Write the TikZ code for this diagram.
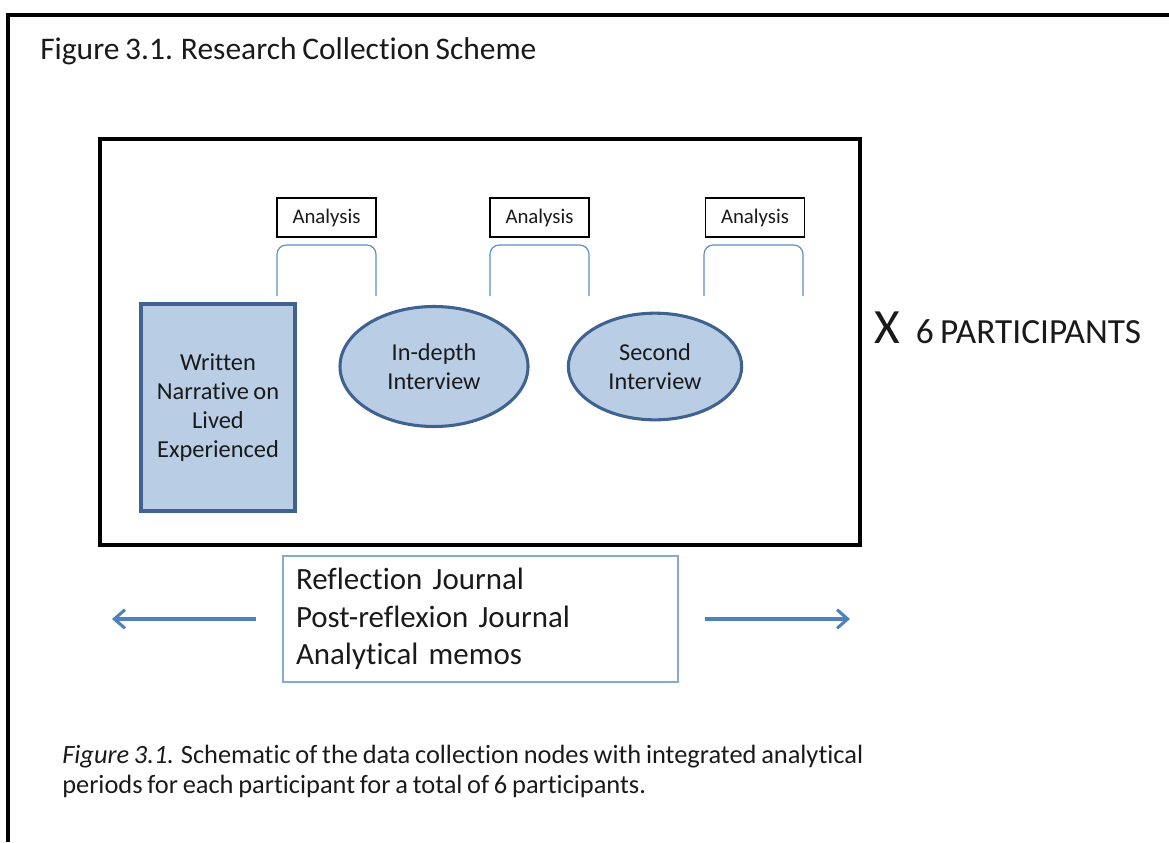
\documentclass[tikz,border=0pt]{standalone}
\usepackage{fontspec}
\setmainfont{Carlito}[Ligatures={NoCommon},WordSpace={0.8}]
\usetikzlibrary{arrows.meta,shapes.geometric}
\definecolor{fillblue}{HTML}{B9CDE5}
\definecolor{edgeblue}{HTML}{3F6290}
\definecolor{lineblue}{HTML}{4F81BD}
\definecolor{bracketblue}{HTML}{5F8DC8}
\definecolor{boxblue}{HTML}{86A9D6}
\definecolor{inktext}{HTML}{1A1A1A}
\begin{document}
\begin{tikzpicture}[x=0.75pt,y=-0.75pt,
  every node/.style={text=inktext},
  frame/.style={line width=3pt,black},
  innerframe/.style={line width=2.6pt,black},
  analysisbox/.style={draw=black,line width=1pt,fill=white,minimum width=74.25pt,minimum height=29.25pt,inner sep=0pt,font=\fontsize{15.6}{18}\selectfont},
  bracket/.style={draw=bracketblue,line width=0.9pt,rounded corners=7pt},
  datarect/.style={draw=edgeblue,fill=fillblue,line width=2.3pt,inner sep=0pt,align=center,font=\fontsize{18.3}{21.9}\selectfont},
  dataoval/.style={ellipse,draw=edgeblue,fill=fillblue,line width=2.3pt,inner sep=0pt,align=center,font=\fontsize{18.2}{21.9}\selectfont},
  journalbox/.style={draw=boxblue,line width=1pt,inner ysep=0pt,inner xsep=9.75pt,align=left,font=\fontsize{23.2}{28}\selectfont},
  spanarrow/.style={draw=lineblue,line width=2.3pt,-{Straight Barb[length=8pt,width=14pt,line width=2.3pt]}},
]
\useasboundingbox (0,0) rectangle (1169,842);

% outer frame, open at the right and bottom
\draw[frame] (8,842) -- (8,15) -- (1169,15);
\node[anchor=base west,inner sep=0pt,font=\fontsize{23.6}{27}\selectfont] (title) at (40,60) {Figure 3.1. Research Collection Scheme};

% participant frame
\draw[innerframe] (100,139) rectangle (860,545);

% analysis periods
\node[analysisbox] (an1) at (326.5,217.5) {Analysis};
\node[analysisbox] (an2) at (539.5,217.5) {Analysis};
\node[analysisbox] (an3) at (755,217.5) {Analysis};
\draw[bracket] (277,296) -- (277,245) -- (376,245) -- (376,296);
\draw[bracket] (490,296) -- (490,245) -- (589,245) -- (589,296);
\draw[bracket] (704,296) -- (704,245) -- (803,245) -- (803,296);

% data collection nodes
\node[datarect,minimum width=115.5pt,minimum height=155.25pt] (narr) at (218,407.5) {Written\\Narrative on\\Lived\\Experienced};
\node[dataoval,minimum width=141pt,minimum height=90pt] (indepth) at (434,366.5) {In-depth\\Interview};
\node[dataoval,minimum width=130pt,minimum height=80pt] (second) at (655,366.5) {Second\\Interview};

% repetition count
\node[anchor=base west,inner sep=0pt] (times) at (874,343) {{\fontsize{37}{42}\selectfont X}\hspace{12pt}{\fontsize{26.5}{30}\selectfont 6 PARTICIPANTS}};

% journals spanning the whole study
\node[journalbox,text width=276.75pt,minimum height=94.5pt] (journal) at (480.5,619) {Reflection Journal\\Post-reflexion Journal\\Analytical memos};
\coordinate (leftend) at (112,619);
\coordinate (rightend) at (850,619);
\draw[spanarrow] ([xshift=-19.5pt]journal.west) -- (leftend);
\draw[spanarrow] ([xshift=19.5pt]journal.east) -- (rightend);

% caption (base anchor sits on the last line)
\node[anchor=base west,align=left,inner sep=0pt,font=\fontsize{19.8}{22.5}\selectfont] (caption) at (62,793) {\textit{Figure 3.1.} Schematic of the data collection nodes with integrated analytical\\periods for each participant for a total of 6 participants.};
\end{tikzpicture}
\end{document}
